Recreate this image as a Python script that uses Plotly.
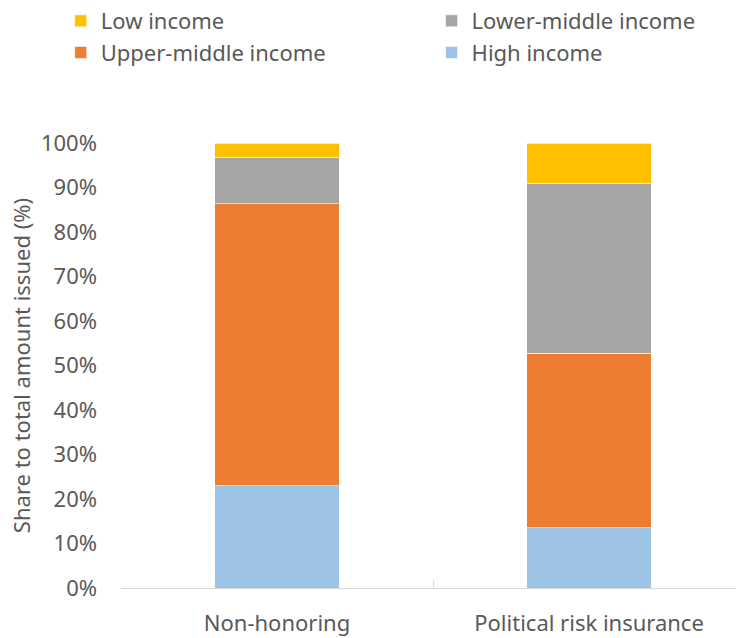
import plotly.graph_objects as go

categories = ["Non-honoring", "Political risk insurance"]
high_income = [0.23, 0.135]
upper_middle = [0.633, 0.393]
lower_middle = [0.104, 0.381]
low_income = [0.033, 0.091]

series = [
    ("High income", high_income, "#9DC3E6", "legend2", 2),
    ("Upper-middle income", upper_middle, "#ED7D31", "legend", 2),
    ("Lower-middle income", lower_middle, "#A5A5A5", "legend2", 1),
    ("Low income", low_income, "#FFC000", "legend", 1),
]

font_family = "Noto Sans, Open Sans, sans-serif"
text_color = "#595959"
fs = 22

fig = go.Figure()
for name, vals, color, leg, rank in series:
    fig.add_trace(go.Bar(
        x=categories, y=vals, name=name,
        marker=dict(color=color, line=dict(color="white", width=0.6)),
        width=0.4, legend=leg, legendrank=rank, legendgroup=name,
    ))

legend_common = dict(
    orientation="v", yref="container", y=1.0, yanchor="top",
    xref="paper", xanchor="left",
    traceorder="normal", font=dict(size=fs, color=text_color),
    itemwidth=30, tracegroupgap=2, bgcolor="rgba(0,0,0,0)",
)

fig.update_layout(
    barmode="stack",
    width=736, height=638,
    margin=dict(l=121, r=0, t=143, b=50, autoexpand=False),
    paper_bgcolor="white", plot_bgcolor="white",
    font=dict(family=font_family, color=text_color, size=fs),
    showlegend=True,
    legend=dict(x=-0.098, **legend_common),
    legend2=dict(x=0.505, **legend_common),
    xaxis=dict(
        range=[-0.5, 1.471], showgrid=False, automargin=False,
        showline=True, linecolor="#D9D9D9", linewidth=1,
        ticks="inside", tickson="boundaries", ticklen=8, tickcolor="#D9D9D9",
        tickfont=dict(size=fs, color=text_color), ticklabelstandoff=16,
    ),
    yaxis=dict(
        range=[0, 1], tickformat=".0%", dtick=0.1, automargin=False,
        showgrid=False, showline=False, zeroline=False,
        ticks="", tickfont=dict(size=fs, color=text_color), ticklabelstandoff=23,
        title=dict(text="Share to total amount issued (%)", font=dict(size=fs, color=text_color), standoff=4),
    ),
)

fig.write_html("out.html", config={"displayModeBar": False},
               post_script="document.body.style.margin='0';")
